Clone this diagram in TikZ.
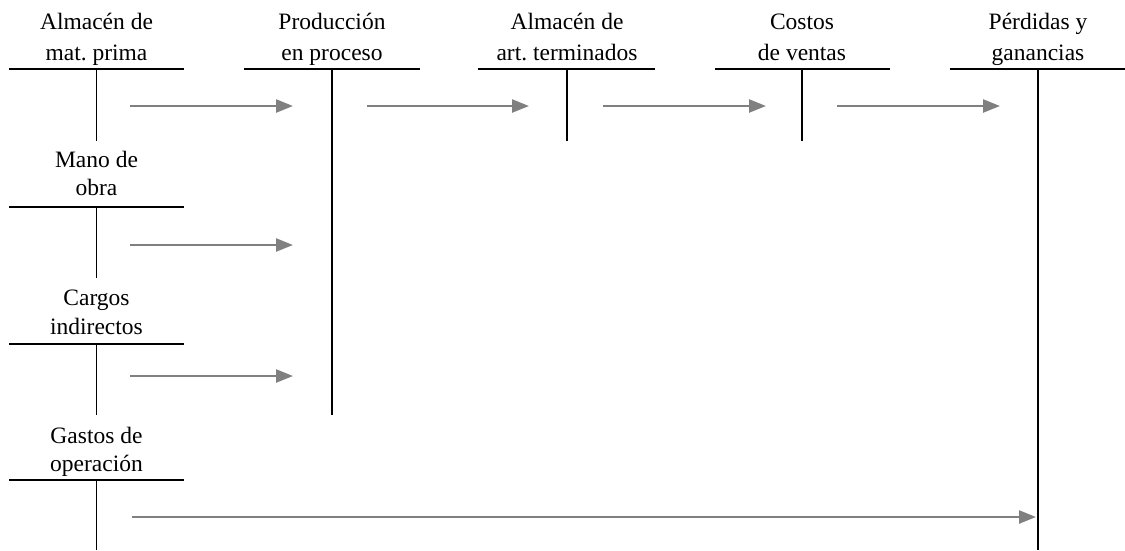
\documentclass[tikz,border=0pt]{standalone}
\usepackage{fontspec}
\setmainfont{Liberation Serif}
\usetikzlibrary{arrows.meta}
\definecolor{arrgray}{RGB}{128,128,128}
\frenchspacing
\begin{document}
\begin{tikzpicture}[x=1pt,y=-1pt,
  lbl/.style={anchor=base,inner sep=0pt,font=\fontsize{23.5}{28}\selectfont},
  tline/.style={line width=1.4pt,black},
  flow/.style={line width=2.4pt,arrgray,-{Triangle[length=17pt,width=13pt]}}]
\useasboundingbox (0,0) rectangle (1125,550);
\foreach \nm/\cx/\xa/\xb/\yl/\yb/\la/\lb/\ba/\bb in {
  mp/96.5/9/184/69/141/Almacén de/mat. prima/29/60,
  pp/332/244/420/69/415/Producción/en proceso/29/60,
  at/567/478/655/69/141/Almacén de/art. terminados/29/60,
  cv/802/715/890/69/141/Costos/de ventas/29/60,
  pg/1038/950/1125/69/550/Pérdidas y/ganancias/29/60,
  mo/96.5/9/184/207/278/Mano de/obra/167/195,
  ci/96.5/9/184/344/415/Cargos/indirectos/305/334,
  go/96.5/9/184/480/550/Gastos de/operación/443/471}{
  \node[lbl] (\nm-a) at (\cx,\ba) {\la};
  \node[lbl] (\nm-b) at (\cx,\bb) {\lb};
  \coordinate (\nm-l) at (\xa,\yl);
  \coordinate (\nm-r) at (\xb,\yl);
  \coordinate (\nm-t) at (\cx,\yl);
  \coordinate (\nm-e) at (\cx,\yb);
  \draw[tline] (\nm-l) -- (\nm-r);
  \draw[tline] (\nm-t) -- (\nm-e);
}
\coordinate (a1s) at (130,106); \coordinate (a1e) at (293,106);
\coordinate (a2s) at (367,106); \coordinate (a2e) at (529,106);
\coordinate (a3s) at (603,106); \coordinate (a3e) at (766,106);
\coordinate (a4s) at (837,106); \coordinate (a4e) at (1000,106);
\coordinate (a5s) at (130,245); \coordinate (a5e) at (293,245);
\coordinate (a6s) at (130,376); \coordinate (a6e) at (293,376);
\coordinate (a7s) at (132,517); \coordinate (a7e) at (1036,517);
\foreach \i in {1,...,7}{\draw[flow] (a\i s) -- (a\i e);}
\end{tikzpicture}
\end{document}
